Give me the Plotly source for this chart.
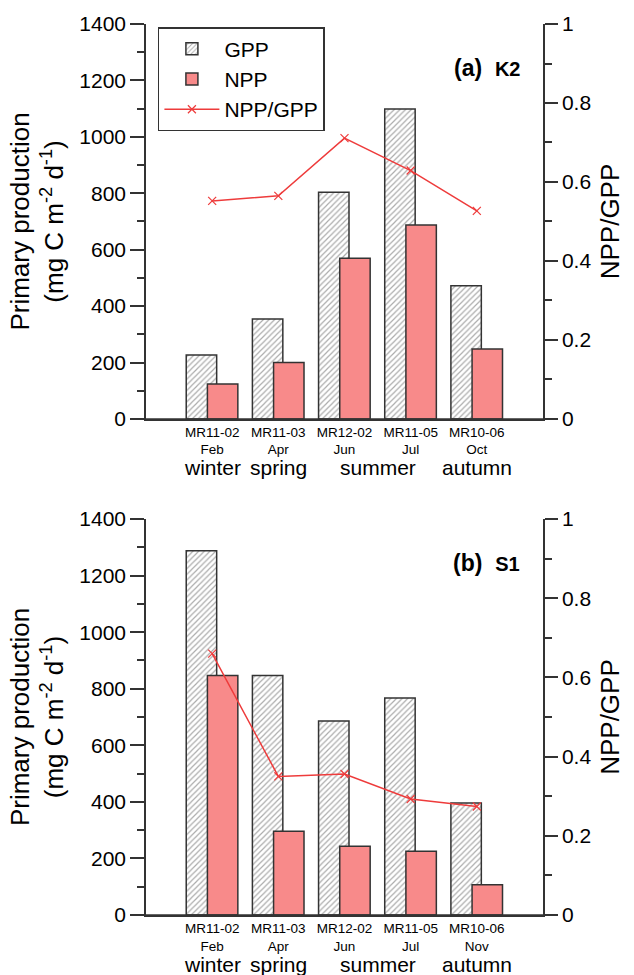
import plotly.graph_objects as go
from plotly.subplots import make_subplots

cruises = ["MR11-02", "MR11-03", "MR12-02", "MR11-05", "MR10-06"]
months_k2 = ["Feb", "Apr", "Jun", "Jul", "Oct"]
months_s1 = ["Feb", "Apr", "Jun", "Jul", "Nov"]
seasons = ["winter", "spring", "summer", "autumn"]
season_pos = [0, 1, 2.5, 4]

gpp_k2 = [227, 354, 804, 1099, 472]
npp_k2 = [124, 200, 570, 688, 248]
ratio_k2 = [0.552, 0.565, 0.711, 0.629, 0.527]

gpp_s1 = [1288, 847, 686, 767, 396]
npp_s1 = [847, 296, 243, 225, 107]
ratio_s1 = [0.660, 0.350, 0.356, 0.293, 0.274]

FONT = "Arial, Liberation Sans, sans-serif"
AX = "#333333"
PINK = "#F88A8A"
RED = "#EE3B3B"

fig = make_subplots(rows=2, cols=1, specs=[[{"secondary_y": True}], [{"secondary_y": True}]])

def add_panel(row, gpp, npp, ratio, months, show):
    cats = [f"{c}<br>{m}" for c, m in zip(cruises, months)]
    fig.add_trace(go.Bar(x=cats, y=gpp, name="GPP", width=0.46, offset=-0.392,
                         marker=dict(color="white", line=dict(color=AX, width=1.5),
                                     pattern=dict(shape="/", fgcolor="#5a5a5a", bgcolor="white",
                                                  size=4, solidity=0.3)),
                         showlegend=show), row=row, col=1, secondary_y=False)
    fig.add_trace(go.Bar(x=cats, y=npp, name="NPP", width=0.46, offset=-0.072,
                         marker=dict(color=PINK, line=dict(color=AX, width=1.5)),
                         showlegend=show), row=row, col=1, secondary_y=False)
    fig.add_trace(go.Scatter(x=cats, y=ratio, name="NPP/GPP", mode="lines+markers",
                             line=dict(color=RED, width=1.5),
                             marker=dict(symbol="x-thin-open", size=8, color=RED,
                                         line=dict(color=RED, width=1.2)),
                             showlegend=show), row=row, col=1, secondary_y=True)

add_panel(1, gpp_k2, npp_k2, ratio_k2, months_k2, True)
add_panel(2, gpp_s1, npp_s1, ratio_s1, months_s1, False)

top_dom = [0.5567, 1.0]
bot_dom = [0.0, 0.4444]

ycommon = dict(range=[0, 1400], dtick=200, ticks="outside", ticklen=14, tickwidth=1.5,
               tickcolor=AX, showline=True, linecolor=AX, linewidth=1.5, showgrid=False,
               zeroline=False, automargin=False,
               tickfont=dict(size=21, color="black", family=FONT),
               minor=dict(dtick=100, ticks="outside", ticklen=7, tickwidth=1.5, tickcolor=AX),
               title=dict(text="Primary production<br>(mg C m<sup>-2</sup> d<sup>-1</sup>)",
                          font=dict(size=26, color="black", family=FONT), standoff=8))
y2common = dict(range=[0, 1], dtick=0.2, ticks="outside", ticklen=13, tickwidth=1.5,
                tickcolor=AX, showline=True, linecolor=AX, linewidth=1.5, showgrid=False,
                zeroline=False, automargin=False,
                tickfont=dict(size=21, color="black", family=FONT),
                tickformat="~g",
                minor=dict(dtick=0.1, ticks="outside", ticklen=7, tickwidth=1.5, tickcolor=AX),
                title=dict(text="NPP/GPP", font=dict(size=26, color="black", family=FONT),
                           standoff=10))
xcommon = dict(range=[-1, 5], showline=True, linecolor=AX, linewidth=1.5, ticks="",
               showgrid=False, zeroline=False, automargin=False,
               tickfont=dict(size=13.5, color="black", family=FONT))

fig.update_layout(
    width=634, height=975,
    margin=dict(l=146, r=91, t=24, b=60, autoexpand=False),
    paper_bgcolor="white", plot_bgcolor="white",
    barmode="overlay",
    font=dict(family=FONT, color="black"),
    xaxis=dict(domain=[0, 1], **xcommon),
    xaxis2=dict(domain=[0, 1], **xcommon),
    yaxis=dict(domain=top_dom, **ycommon),
    yaxis2=dict(**y2common),
    yaxis3=dict(domain=bot_dom, **ycommon),
    yaxis4=dict(**y2common),
    legend=dict(x=0.03, y=0.9966, xanchor="left", yanchor="top",
                bordercolor=AX, borderwidth=1.5, bgcolor="white",
                font=dict(size=21, color="black", family=FONT),
                itemwidth=55, tracegroupgap=0),
)
fig.update_yaxes(domain=top_dom, row=1, col=1, secondary_y=True)
fig.update_yaxes(domain=bot_dom, row=2, col=1, secondary_y=True)

# extend the baseline through the outer tick regions
for yref in ["y", "y3"]:
    fig.add_shape(type="line", xref="paper", yref=yref, x0=-14/397, x1=1 + 13/397,
                  y0=0, y1=0, line=dict(color=AX, width=1.5))

for xr, yr, lab in [("x domain", "y domain", "(a)"), ("x2 domain", "y3 domain", "(b)")]:
    site = "K2" if lab == "(a)" else "S1"
    fig.add_annotation(xref=xr, yref=yr, x=0.947, y=0.889, xanchor="right", yanchor="middle",
                       text=f"<b>{lab}</b>  <b><span style='font-size:20px'>{site}</span></b>",
                       showarrow=False, font=dict(size=23, color="black", family=FONT))

for xr, yp in [("x", 0.5017), ("x2", -0.0561)]:
    for s, p in zip(seasons, season_pos):
        fig.add_annotation(xref=xr, yref="paper", x=p, y=yp, text=s, showarrow=False,
                           xanchor="center", yanchor="middle",
                           font=dict(size=21, color="black", family=FONT))

fig.write_html("out.html", config={"displayModeBar": False},
               post_script="document.body.style.margin='0px';document.body.style.overflow='hidden';")
